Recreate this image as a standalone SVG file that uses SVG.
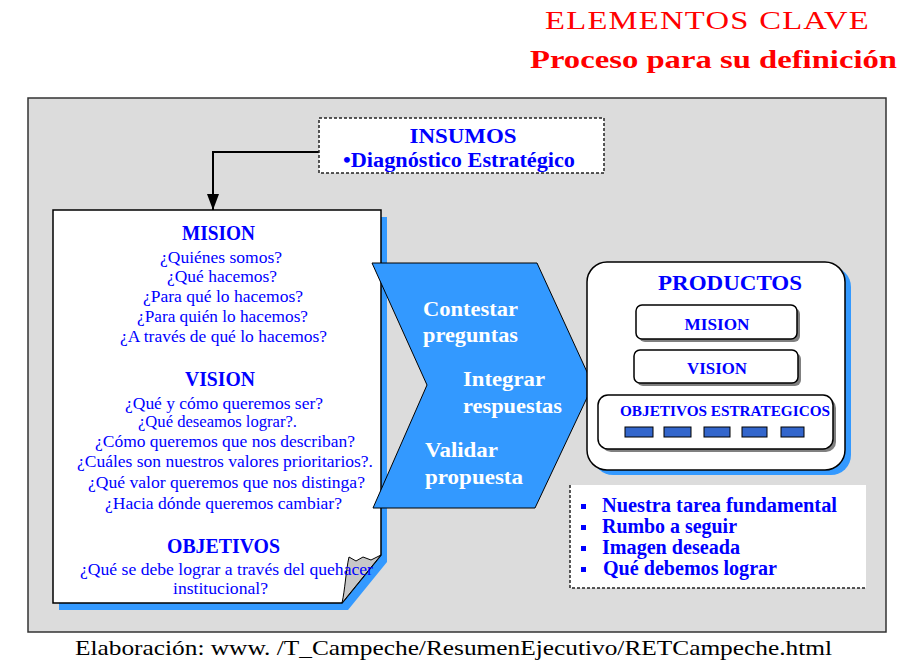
<svg xmlns="http://www.w3.org/2000/svg" width="900" height="660" viewBox="0 0 900 660">
  <style>
    text { font-family: "Liberation Serif", "Times New Roman", serif; }
    .title { fill: #ff0000; font-size: 26px; letter-spacing: 1px; }
    .title-b { fill: #ff0000; font-size: 25px; font-weight: bold; }
    .hdr { fill: #0000ff; font-size: 20px; font-weight: bold; text-anchor: middle; }
    .q { fill: #0000ff; font-size: 16.5px; text-anchor: middle; }
    .step { fill: #ffffff; font-size: 21px; font-weight: bold; }
    .prod { fill: #0000ff; font-weight: bold; text-anchor: middle; }
    .bul { fill: #0000ff; font-size: 20px; font-weight: bold; }
    .dotted { fill: #ffffff; stroke: #222222; stroke-width: 1.5; stroke-dasharray: 3 2; }
    .card { fill: #ffffff; stroke: #000000; stroke-width: 1.5; }
    .shade { fill: #808080; }
    .blue { fill: #3399ff; }
    .tick { fill: #3366cc; stroke: #000000; stroke-width: 1; }
    .conn { fill: none; stroke: #000000; stroke-width: 2; }
  </style>
  <defs>
    <marker id="arrow" markerUnits="userSpaceOnUse" markerWidth="18" markerHeight="12" refX="16" refY="6" orient="auto">
      <path d="M0,0 L16,6 L0,12 Z" fill="#000000"/>
    </marker>
  </defs>

  <rect width="900" height="660" fill="#ffffff"/>

  <!-- heading -->
  <g id="heading">
    <text class="title" x="545" y="29" textLength="325" lengthAdjust="spacingAndGlyphs">ELEMENTOS CLAVE</text>
    <text class="title-b" x="530" y="68" textLength="367" lengthAdjust="spacingAndGlyphs">Proceso para su definición</text>
  </g>

  <!-- background panel -->
  <g id="panel">
    <rect x="28" y="98" width="858" height="534" fill="#dcdcdc" stroke="#333333" stroke-width="1.5"/>
  </g>

  <!-- connectors -->
  <g id="connectors">
    <path class="conn" d="M319,152 H213 V210" marker-end="url(#arrow)"/>
  </g>

  <!-- inputs box -->
  <g id="insumos">
    <rect class="dotted" x="319" y="118" width="285" height="55"/>
    <text class="hdr" x="463" y="143" font-size="21" textLength="107" lengthAdjust="spacingAndGlyphs">INSUMOS</text>
    <text class="hdr" x="459" y="167" font-size="21" textLength="232" lengthAdjust="spacingAndGlyphs">•Diagnóstico Estratégico</text>
  </g>

  <!-- page with questions -->
  <g id="preguntas">
    <path class="blue" d="M59,217 H387 V562 L348,610 H59 Z"/>
    <path class="card" d="M53,210 H381 V555 L342,603 H53 Z"/>
    <path d="M342,603 C345,590 346,570 349,557 L356,561 L363,557 L371,560 L381,555 Z" fill="#c8c8c8" stroke="#000000" stroke-width="1"/>

    <text class="hdr" x="218.5" y="240" textLength="73" lengthAdjust="spacingAndGlyphs">MISION</text>
    <text class="q" x="221" y="263" textLength="122" lengthAdjust="spacingAndGlyphs">¿Quiénes somos?</text>
    <text class="q" x="222" y="282" textLength="110" lengthAdjust="spacingAndGlyphs">¿Qué hacemos?</text>
    <text class="q" x="223" y="302" textLength="160" lengthAdjust="spacingAndGlyphs">¿Para qué lo hacemos?</text>
    <text class="q" x="222.5" y="322" textLength="171" lengthAdjust="spacingAndGlyphs">¿Para quién lo hacemos?</text>
    <text class="q" x="223.5" y="342" textLength="207" lengthAdjust="spacingAndGlyphs">¿A través de qué lo hacemos?</text>

    <text class="hdr" x="220" y="386" textLength="70" lengthAdjust="spacingAndGlyphs">VISION</text>
    <text class="q" x="224" y="409" textLength="198" lengthAdjust="spacingAndGlyphs">¿Qué y cómo queremos ser?</text>
    <text class="q" x="217.5" y="427" textLength="159" lengthAdjust="spacingAndGlyphs">¿Qué deseamos lograr?.</text>
    <text class="q" x="225" y="447" textLength="260" lengthAdjust="spacingAndGlyphs">¿Cómo queremos que nos describan?</text>
    <text class="q" x="225" y="467" textLength="296" lengthAdjust="spacingAndGlyphs">¿Cuáles son nuestros valores prioritarios?.</text>
    <text class="q" x="226.5" y="488" textLength="277" lengthAdjust="spacingAndGlyphs">¿Qué valor queremos que nos distinga?</text>
    <text class="q" x="223.5" y="509" textLength="237" lengthAdjust="spacingAndGlyphs">¿Hacia dónde queremos cambiar?</text>

    <text class="hdr" x="223.5" y="553" textLength="113" lengthAdjust="spacingAndGlyphs">OBJETIVOS</text>
    <text class="q" x="226.5" y="575" textLength="293" lengthAdjust="spacingAndGlyphs">¿Qué se debe lograr a través del quehacer</text>
    <text class="q" x="220.5" y="594" textLength="95" lengthAdjust="spacingAndGlyphs">institucional?</text>
  </g>

  <!-- process chevron -->
  <g id="proceso">
    <path d="M372,263 H537 L593,385 L535,508 H373 L427,385 Z" fill="#3399ff" stroke="#000000" stroke-width="1"/>
    <text class="step" x="423" y="316" textLength="95" lengthAdjust="spacingAndGlyphs">Contestar</text>
    <text class="step" x="423" y="342" textLength="95" lengthAdjust="spacingAndGlyphs">preguntas</text>
    <text class="step" x="463" y="386" textLength="82" lengthAdjust="spacingAndGlyphs">Integrar</text>
    <text class="step" x="463" y="413" textLength="99" lengthAdjust="spacingAndGlyphs">respuestas</text>
    <text class="step" x="425" y="457" textLength="73" lengthAdjust="spacingAndGlyphs">Validar</text>
    <text class="step" x="425" y="484" textLength="98" lengthAdjust="spacingAndGlyphs">propuesta</text>
  </g>

  <!-- products -->
  <g id="productos">
    <rect class="blue" x="593" y="267" width="258" height="208" rx="20"/>
    <rect class="card" x="587" y="262" width="258" height="208" rx="20"/>
    <text class="prod" x="730" y="290" font-size="21" textLength="144" lengthAdjust="spacingAndGlyphs">PRODUCTOS</text>
  </g>

  <g id="prod-mision">
    <rect class="shade" x="639" y="308" width="161" height="34" rx="6"/>
    <rect class="card" x="636" y="305" width="161" height="34" rx="6"/>
    <text class="prod" x="717" y="330" font-size="17" textLength="65" lengthAdjust="spacingAndGlyphs">MISION</text>
  </g>

  <g id="prod-vision">
    <rect class="shade" x="637" y="353" width="164" height="33" rx="6"/>
    <rect class="card" x="634" y="350" width="164" height="33" rx="6"/>
    <text class="prod" x="717" y="374" font-size="17" textLength="60" lengthAdjust="spacingAndGlyphs">VISION</text>
  </g>

  <g id="prod-objetivos">
    <rect class="shade" x="601" y="398" width="235" height="54" rx="10"/>
    <rect class="card" x="598" y="395" width="235" height="54" rx="10"/>
    <text class="prod" x="725" y="416" font-size="15" textLength="210" lengthAdjust="spacingAndGlyphs">OBJETIVOS ESTRATEGICOS</text>
    <rect class="tick" x="625" y="427" width="28" height="10"/>
    <rect class="tick" x="664" y="427" width="27" height="10"/>
    <rect class="tick" x="704" y="427" width="26" height="10"/>
    <rect class="tick" x="742" y="427" width="25" height="10"/>
    <rect class="tick" x="781" y="427" width="23" height="10"/>
  </g>

  <!-- meaning of each product -->
  <g id="significado">
    <rect x="570" y="485" width="296" height="103" fill="#ffffff"/>
    <path d="M570,485 V588 H866" fill="none" stroke="#222222" stroke-width="1.5" stroke-dasharray="3 2"/>
    <rect x="581" y="504" width="5" height="5" fill="#0000ff"/>
    <rect x="581" y="525" width="5" height="5" fill="#0000ff"/>
    <rect x="581" y="546" width="5" height="5" fill="#0000ff"/>
    <rect x="581" y="567" width="5" height="5" fill="#0000ff"/>
    <text class="bul" x="602" y="512" textLength="235" lengthAdjust="spacingAndGlyphs">Nuestra tarea fundamental</text>
    <text class="bul" x="602" y="533" textLength="135" lengthAdjust="spacingAndGlyphs">Rumbo a seguir</text>
    <text class="bul" x="602" y="554" textLength="138" lengthAdjust="spacingAndGlyphs">Imagen deseada</text>
    <text class="bul" x="603" y="575" textLength="174" lengthAdjust="spacingAndGlyphs">Qué debemos lograr</text>
  </g>

  <!-- source line -->
  <g id="fuente">
    <text x="75" y="655" font-size="22" fill="#000000" textLength="757" lengthAdjust="spacingAndGlyphs">Elaboración: www. /T_Campeche/ResumenEjecutivo/RETCampeche.html</text>
  </g>
</svg>
